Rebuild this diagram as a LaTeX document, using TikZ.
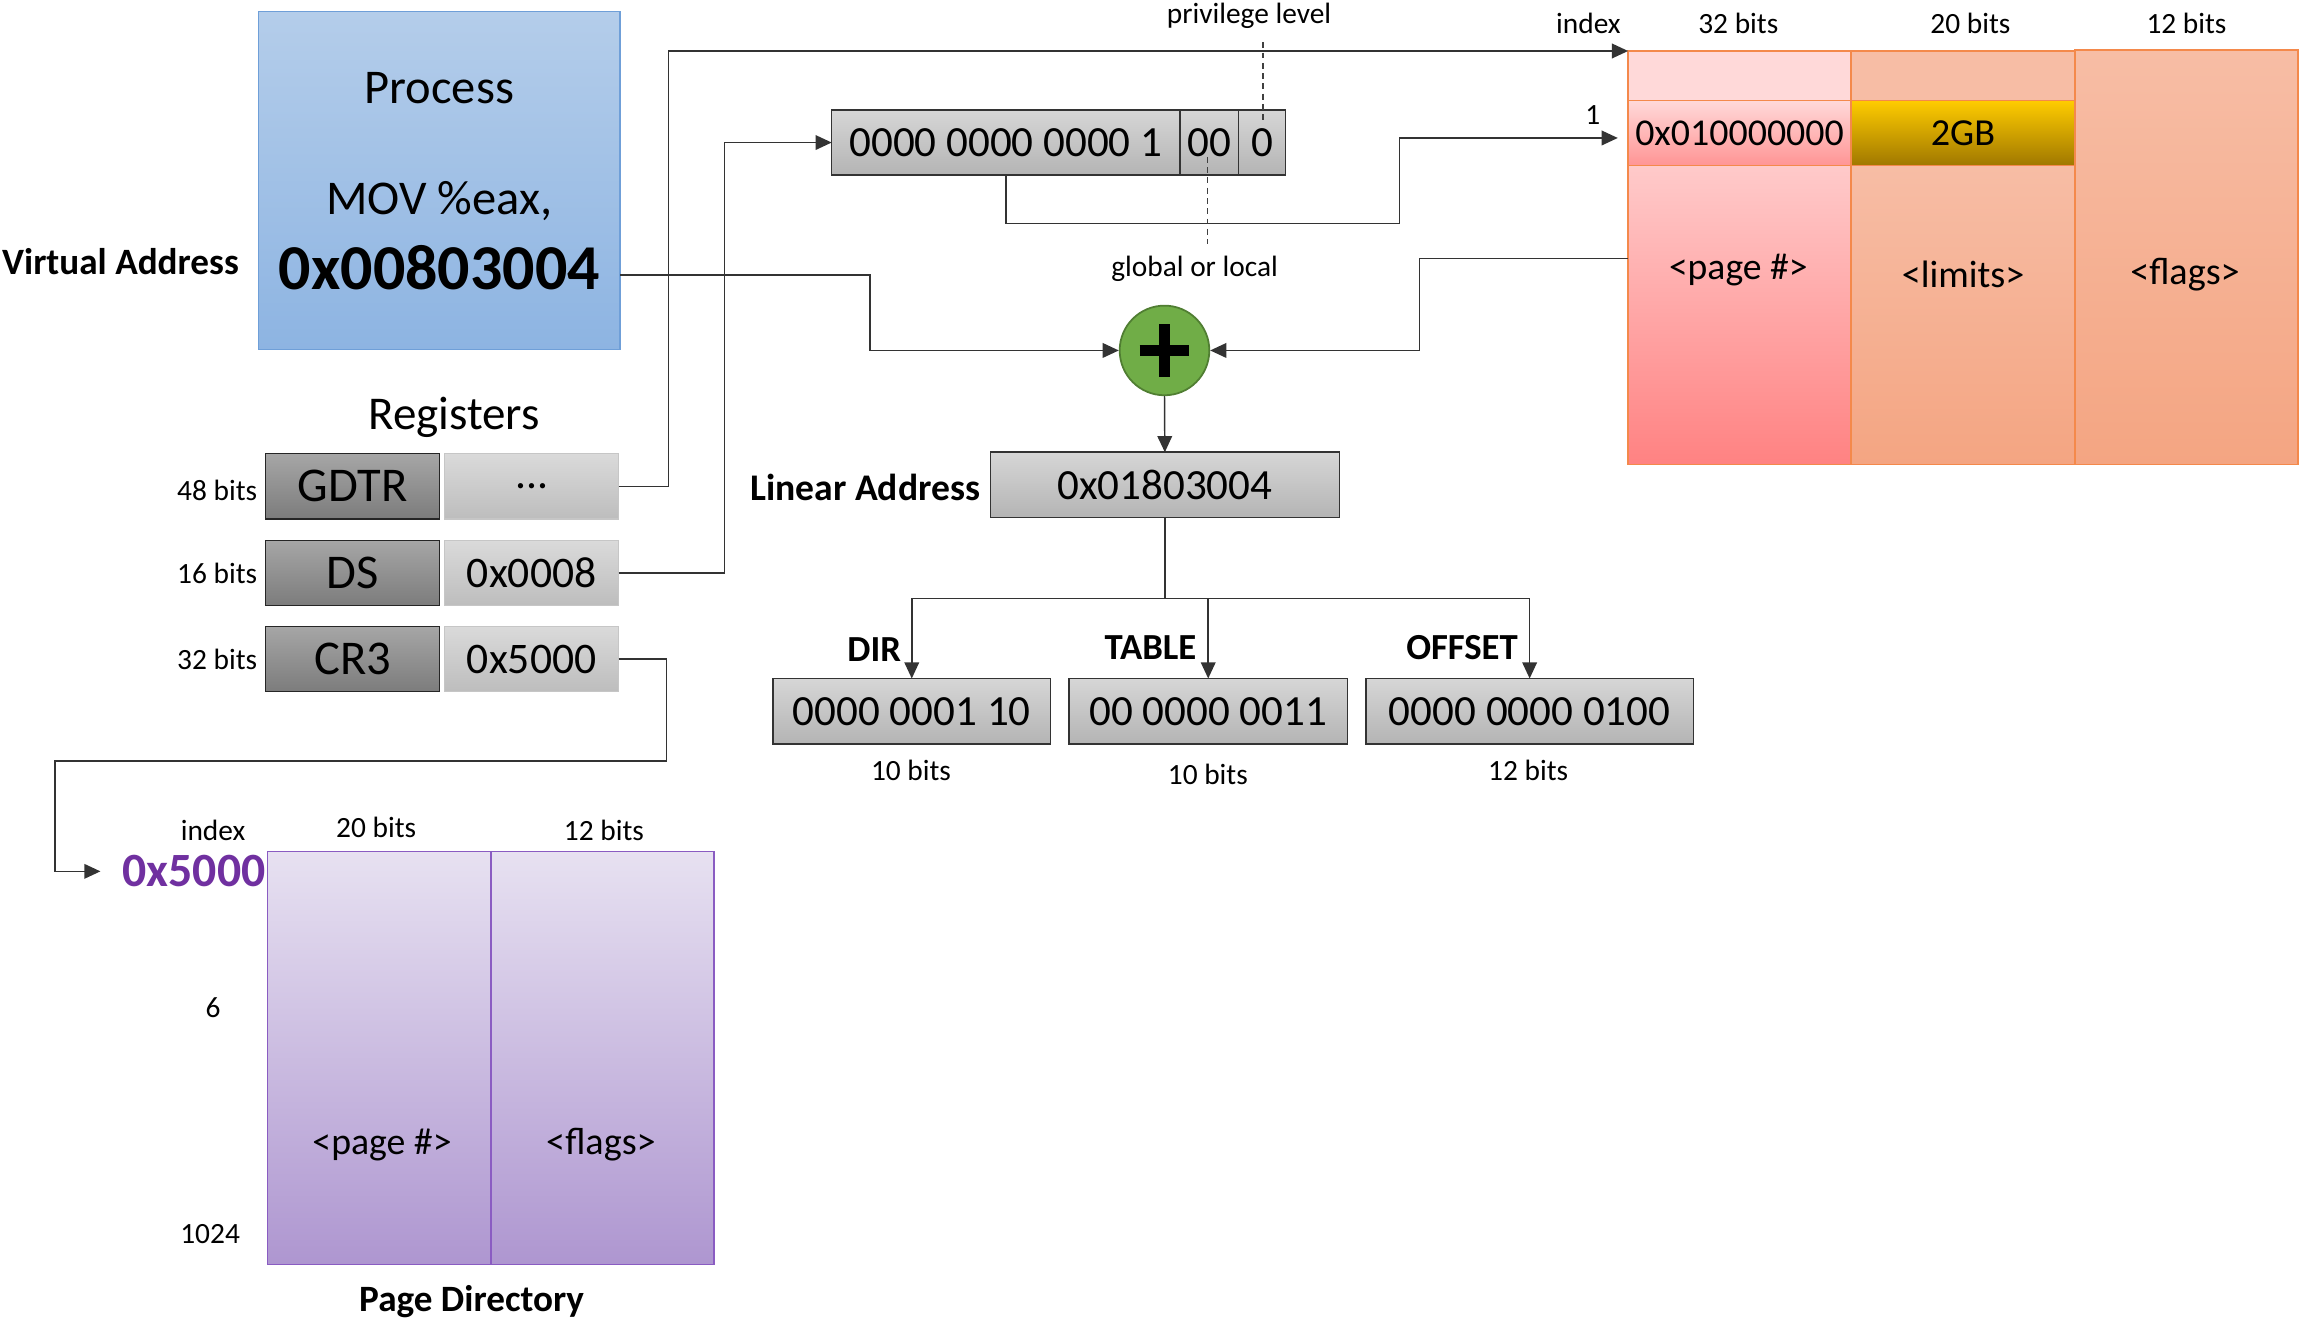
\documentclass[tikz,border=0pt]{standalone}
\usepackage{fontspec}
\setmainfont{Carlito}
\usetikzlibrary{arrows.meta,calc}
\newcommand{\myfs}[1]{\fontsize{#1}{#1}\selectfont}
\definecolor{procTop}{HTML}{B4CDEA}
\definecolor{procBot}{HTML}{8DB4E2}
\definecolor{procLine}{HTML}{6F9FD8}
\definecolor{darkTop}{HTML}{A6A6A6}
\definecolor{darkBot}{HTML}{7C7C7C}
\definecolor{liteTop}{HTML}{DADADA}
\definecolor{liteBot}{HTML}{BDBDBD}
\definecolor{liteLine}{HTML}{C6C6C6}
\definecolor{grayTop}{HTML}{D6D6D6}
\definecolor{grayBot}{HTML}{B4B4B4}
\definecolor{purTop}{HTML}{E7E1F1}
\definecolor{purBot}{HTML}{AE96D0}
\definecolor{purLine}{HTML}{8A5CC2}
\definecolor{purText}{HTML}{7030A0}
\definecolor{plusFill}{HTML}{70AD47}
\definecolor{plusLine}{HTML}{507E32}
\definecolor{orLine}{HTML}{F4894B}
\definecolor{pinkA}{HTML}{FFD9D9}
\definecolor{pinkTop}{HTML}{FFCACA}
\definecolor{pinkBot}{HTML}{FF8282}
\definecolor{salTop}{HTML}{F7BDA5}
\definecolor{salBot}{HTML}{F4A582}
\definecolor{goldTop}{HTML}{FFCC00}
\definecolor{goldBot}{HTML}{A07800}
\tikzset{
  cell/.style={rectangle, inner sep=0pt, outer sep=0pt},
  regdark/.style={cell, draw=black!85, line width=1pt, top color=darkTop, bottom color=darkBot, minimum width=118.5pt, minimum height=44.5pt, font=\myfs{33}},
  reglite/.style={cell, draw=liteLine, line width=1pt, top color=liteTop, bottom color=liteBot, minimum width=118.4pt, minimum height=44.5pt, font=\myfs{29.7}},
  graybox/.style={cell, draw=black!80, line width=1pt, top color=grayTop, bottom color=grayBot, minimum height=44.5pt, font=\myfs{29.3}},
  purcell/.style={cell, draw=purLine, line width=1.2pt, top color=purTop, bottom color=purBot, minimum width=152pt, minimum height=281pt},
  txt/.style={inner sep=1pt, outer sep=0pt},
  small/.style={txt, font=\myfs{20}},
  conn/.style={line width=1pt, draw=black!80},
  arr/.style={conn, -{Triangle[length=11pt,width=10pt]}},
}
\begin{document}
\begin{tikzpicture}[x=1pt,y=-1pt]
\useasboundingbox (0,0) rectangle (1568,902);

% Process box
\node[cell, draw=procLine, line width=1pt, top color=procTop, bottom color=procBot,
      minimum width=246pt, minimum height=230pt] (proc) at (299,123) {};
\node[txt, font=\myfs{33}] (ptitle) at (299,60) {Process};
\node[txt, font=\myfs{33}] (pmov) at (299,137) {MOV \%eax,};
\node[txt, font=\bfseries\myfs{43.5}] (vaddr) at (299,182) {0x00803004};
\node[txt, font=\bfseries\myfs{25.3}] (vlabel) at (82,178) {Virtual Address};

% Registers
\node[txt, font=\myfs{32}] (reglabel) at (309,284) {Registers};
\node[regdark] (gdtr) at (240,331) {GDTR};
\node[reglite] (gval) at (361.8,331) {...};
\node[regdark] (ds) at (240,390) {DS};
\node[reglite] (dval) at (361.8,390) {0x0008};
\node[regdark] (cr3) at (240,448.5) {CR3};
\node[reglite] (cval) at (361.8,448.5) {0x5000};
\node[small, anchor=east] (b48) at (176,334) {48 bits};
\node[small, anchor=east] (b16) at (176,390) {16 bits};
\node[small, anchor=east] (b32) at (176,449) {32 bits};

% Selector
\node[graybox, minimum width=237pt] (selA) at (684.5,97) {0000 0000 0000 1};
\node[graybox, minimum width=40pt] (selB) at (823,97) {00};
\node[graybox, minimum width=32pt] (selC) at (859,97) {0};
\node[small] (priv) at (850,11) {privilege level};
\node[small] (glob) at (813,183) {global or local};
\draw[line width=0.8pt, black!75, dash pattern=on 4pt off 3pt] ($(selC.north)+(0.5,-46)$) -- ++(0,55);
\draw[line width=0.8pt, black!75, dash pattern=on 4pt off 3pt] ($(selB.north)+(-1,32)$) -- ++(0,59);

% Plus
\node[circle, draw=plusLine, line width=1.2pt, fill=plusFill, minimum size=61pt, inner sep=0pt] (plus) at (792.5,238.5) {};
\draw[line width=8pt, black] ($(plus.center)+(-17,0)$) -- ++(34,0);
\draw[line width=8pt, black] ($(plus.center)+(0,-18)$) -- ++(0,36);

% Linear address
\node[graybox, minimum width=237.5pt] (lin) at (792.75,330) {0x01803004};
\node[txt, font=\bfseries\myfs{25.6}, anchor=east] (linlabel) at (668,332) {Linear Address};

\node[graybox, minimum width=189pt] (dir) at (620.5,484) {0000 0001 10};
\node[graybox, minimum width=189.5pt] (tab) at (822.25,484) {00 0000 0011};
\node[graybox, minimum width=223pt] (off) at (1041,484) {0000 0000 0100};
\node[txt, font=\bfseries\myfs{25}] (dirl) at (595,442) {DIR};
\node[txt, font=\bfseries\myfs{25}] (tabl) at (783,441) {TABLE};
\node[txt, font=\bfseries\myfs{25}] (offl) at (995,441) {OFFSET};
\node[small] (dirb) at (620,524) {10 bits};
\node[small] (tabb) at (822,527) {10 bits};
\node[small] (offb) at (1040,524) {12 bits};

% Descriptor table
\node[cell, draw=orLine, line width=1pt, fill=pinkA, minimum width=151.7pt, minimum height=33.6pt] (d0a) at (1183.85,51.5) {};
\node[cell, draw=orLine, line width=1pt, fill=salTop, minimum width=152.3pt, minimum height=33.6pt] (d0b) at (1335.85,51.5) {};
\node[cell, draw=orLine, line width=1pt, top color=pinkTop, bottom color=pinkBot, minimum width=151.7pt, minimum height=203.5pt] (d2a) at (1183.85,214.25) {};
\node[cell, draw=orLine, line width=1pt, top color=salTop, bottom color=salBot, minimum width=152.3pt, minimum height=203.5pt] (d2b) at (1335.85,214.25) {};
\node[cell, draw=orLine, line width=1pt, top color=salTop, bottom color=salBot, minimum width=152pt, minimum height=282pt] (dc) at (1488,175) {};
\node[cell, draw=orLine, line width=1pt, top color=pinkA, bottom color=pinkBot!85!white, minimum width=151.7pt, minimum height=44.2pt, font=\myfs{25.8}] (d1a) at (1183.85,90.4) {0x010000000};
\node[cell, draw=orLine, line width=1pt, top color=goldTop, bottom color=goldBot, minimum width=152.3pt, minimum height=44.2pt, font=\myfs{26}] (d1b) at (1335.85,90.4) {2GB};
\node[txt, font=\myfs{25.6}] (dpage) at (1183,184) {<page \#>};
\node[txt, font=\myfs{26}] (dlim) at (1336,187) {<limits>};
\node[txt, font=\myfs{26}] (dflag) at (1487,187) {<flags>};
\node[small] (dindex) at (1081,16) {index};
\node[small] (d32) at (1183,16) {32 bits};
\node[small] (d20) at (1341,16) {20 bits};
\node[small] (d12) at (1488,16) {12 bits};
\node[small] (done) at (1084,78) {1};

% Page directory
\node[purcell] (pd1) at (258,720) {};
\node[purcell] (pd2) at (410,720) {};
\node[txt, font=\myfs{25.7}] (pdpage) at (260,779) {<page \#>};
\node[txt, font=\myfs{26}] (pdflag) at (409,779) {<flags>};
\node[small] (pdindex) at (145,565) {index};
\node[small] (pd20) at (256,563) {20 bits};
\node[small] (pd12) at (411,565) {12 bits};
\node[txt, font=\bfseries\myfs{32.5}, text=purText] (pdaddr) at (132,593) {0x5000};
\node[small] (pdsix) at (145,686) {6};
\node[small] (pdend) at (143,840) {1024};
\node[txt, font=\bfseries\myfs{25.3}] (pdtitle) at (321,886) {Page Directory};

% Connectors
\draw[arr] ($(proc.east)+(0,64)$) -- ++(170,0) |- (plus.west);
\draw[arr] (gval.east) -- ++(34,0) |- (d0a.north west);
\draw[arr] (dval.east) -- ++(72,0) |- (selA.west);
\draw[arr, shorten >=7pt] (selA.south) -- ++(0,33) -- ++(268,0) |- ($(d1a.west)+(0,3.5)$);
\draw[arr] ($(d2a.north west)+(0,63.5)$) -- ++(-142,0) |- (plus.east);
\draw[arr] (plus.south) -- (lin.north);
\draw[conn] (lin.south) -- ++(0,55) coordinate (br);
\draw[arr] (br) -| (dir.north);
\draw[arr] (br) -| (tab.north);
\draw[arr] (br) -| (off.north);
\draw[arr, shorten >=14pt] (cval.east) -- ++(32.7,0) -- ++(0,69.5) -- ++(-416.2,0) |- (pdaddr.west);
\end{tikzpicture}
\end{document}
